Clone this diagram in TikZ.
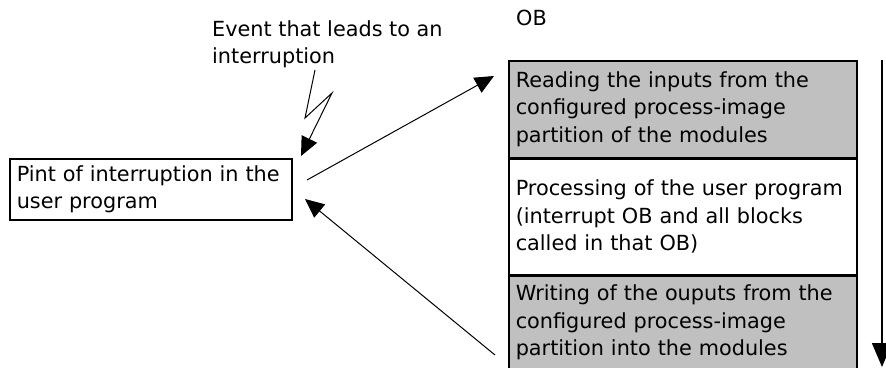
\documentclass[tikz,border=0pt]{standalone}
\usepackage{fontspec}
\setmainfont{DejaVu Sans}
\usepackage{tikz}
\usetikzlibrary{arrows.meta, positioning}
\definecolor{panelgray}{RGB}{192, 192, 192}

\begin{document}
\begin{tikzpicture}[x=1pt, y=-1pt,
    every node/.style={font=\fontsize{20.8}{27.5}\selectfont},
    plainbox/.style={draw=black, line width=1.5pt, inner xsep=7pt, inner ysep=0pt, align=left, anchor=north west},
    stagebox/.style={plainbox, text width=334pt, minimum width=348pt},
    conn/.style={line width=1pt, -{Triangle[width=17pt, length=19pt]}}
]
    \useasboundingbox (0,0) rectangle (886,367);

    % interrupted program
    \node[plainbox, text width=268pt, minimum height=61pt] (point) at (9,158) {Pint of interruption in the\\user program};

    % OB sequence
    \node[anchor=west, inner sep=0pt] (ob) at (516,18) {OB};
    \node[stagebox, fill=panelgray, minimum height=97pt, inner ysep=3pt] (reading) at (508,60) {Reading the inputs from the\\configured process-image\\partition of the modules};
    \node[stagebox, fill=white, minimum height=115pt, below=0pt of reading.south west, anchor=north west] (processing) {Processing of the user program\\(interrupt OB and all blocks\\called in that OB)};
    \node[stagebox, fill=panelgray, inner ysep=9pt, below=0pt of processing.south west, anchor=north west] (writing) {Writing of the ouputs from the\\configured process-image\\partition into the modules};

    % interrupt event
    \node[anchor=north west, align=left, inner sep=0pt] (event) at (212,20) {Event that leads to an\\interruption};
    \coordinate (boltA) at (315,70);
    \coordinate (boltB) at (305,118);
    \coordinate (boltC) at (332,93);
    \coordinate (boltD) at (301,156);
    \draw[conn] (boltA) -- (boltB) -- (boltC) -- (boltD);

    % jump to OB and return
    \coordinate (leave) at (307,180);
    \coordinate (enter) at (494,76);
    \coordinate (back) at (495,355);
    \coordinate (resume) at (305,199);
    \draw[conn] (leave) -- (enter);
    \draw[conn] (back) -- (resume);

    % execution order
    \coordinate (cycletop) at (882,60);
    \coordinate (cyclebot) at (882,367);
    \draw[line width=1.5pt, -{Triangle[width=20pt, length=24pt]}] (cycletop) -- (cyclebot);
\end{tikzpicture}
\end{document}
